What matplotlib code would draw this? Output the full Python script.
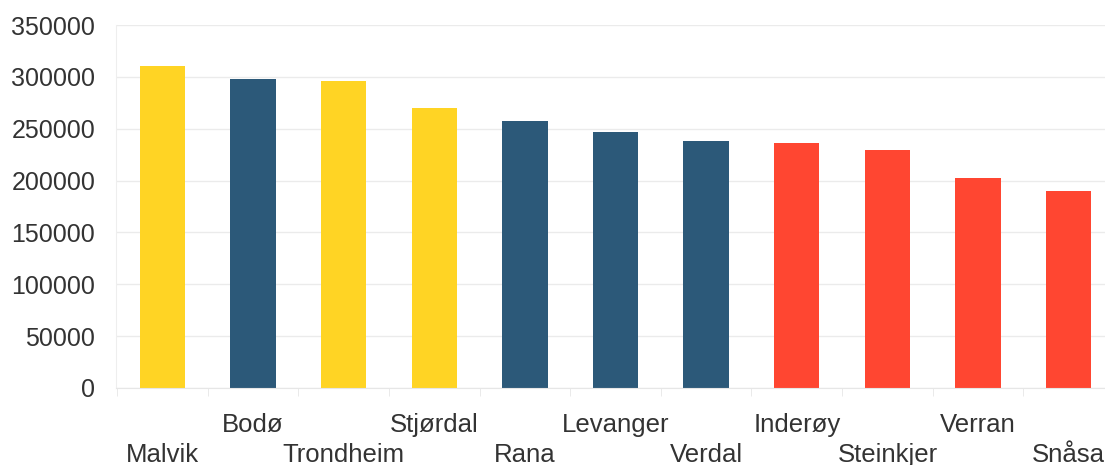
import numpy as np
import matplotlib.pyplot as plt

plt.rcParams['font.family'] = ['Liberation Sans', 'DejaVu Sans']

kommuner = ['Malvik', 'Bodø', 'Trondheim', 'Stjørdal', 'Rana', 'Levanger',
            'Verdal', 'Inderøy', 'Steinkjer', 'Verran', 'Snåsa']
verdier = [310500, 297600, 296000, 270000, 257500, 246800,
           238000, 236000, 229500, 202800, 190000]
grupper = ['gul', 'blaa', 'gul', 'gul', 'blaa', 'blaa',
           'blaa', 'rod', 'rod', 'rod', 'rod']
farger = {'gul': '#FFD424', 'blaa': '#2C5979', 'rod': '#FF4631'}

fig = plt.figure(figsize=(11.05, 4.65), dpi=100)
ax = fig.add_axes([0.105, 0.1656, 0.895, 0.7806])

x = np.arange(len(kommuner))
ax.bar(x, verdier, width=0.5, color=[farger[g] for g in grupper], zorder=2)

ax.set_yticks(np.arange(0, 350001, 50000))
ax.yaxis.grid(True, color='#ebebeb', linewidth=1, zorder=0)
ax.tick_params(axis='y', length=0, labelsize=18, labelcolor='#333333', pad=15)

ax.set_xticks(x)
ax.set_xticklabels([])
ax.tick_params(axis='x', length=0)
ax.set_xticks(np.arange(-0.5, 10.4, 1), minor=True)
ax.tick_params(axis='x', which='minor', length=6, color='#e6e6e6')

# settes etter tickene, ellers utvides aksen
ax.set_ylim(0, 350000)
ax.set_xlim(-0.51, 10.40)

# etiketter i to rader, annenhver nede og oppe
for i, navn in enumerate(kommuner):
    yy = -0.204 if i % 2 == 0 else -0.121
    ax.text(i, yy, navn, transform=ax.get_xaxis_transform(), ha='center',
            va='baseline', fontsize=18.5, color='#333333')

for s in ['top', 'right']:
    ax.spines[s].set_visible(False)
ax.spines['left'].set_color('#eeeeee')
ax.spines['bottom'].set_color('#e6e6e6')

fig.savefig('out.png', dpi=100)
